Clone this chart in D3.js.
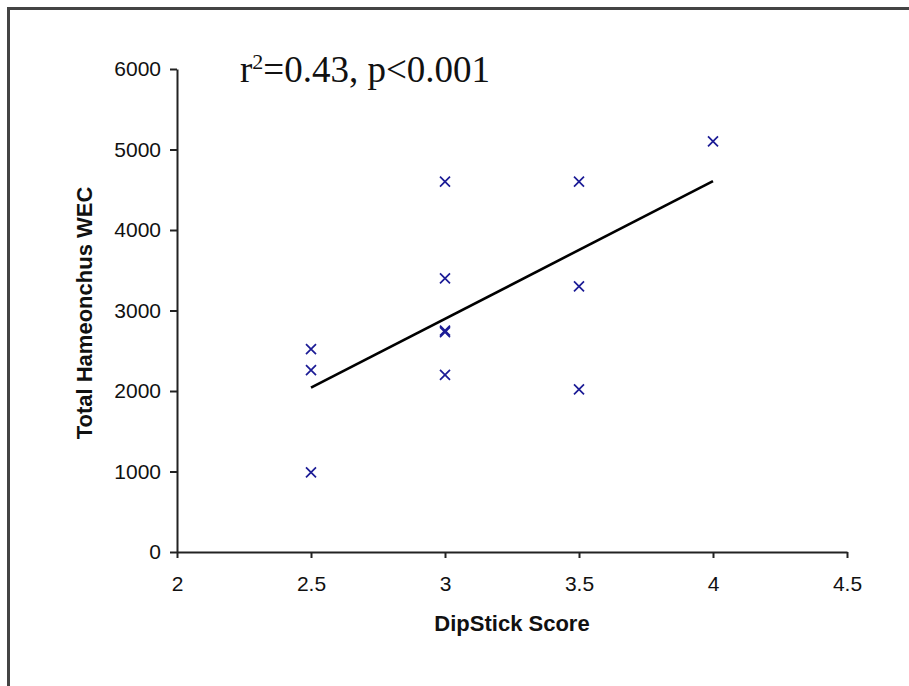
<!DOCTYPE html>
<html>
<head>
<meta charset="utf-8">
<script src="https://cdn.jsdelivr.net/npm/d3@7"></script>
<style>
  body { margin: 0; background: #fff; }
  .axis path, .axis line { stroke: #222; stroke-width: 2px; }
  .axis text { font-family: "Liberation Sans", Arial, sans-serif; font-size: 21px; fill: #111; }
  .title { font-family: "Liberation Sans", Arial, sans-serif; font-size: 22px; font-weight: bold; fill: #111; }
</style>
</head>
<body>
<svg class="chart"></svg>
<script>
// data
var dipScore = [2.5, 2.5, 2.5, 3, 3, 3, 3, 3, 3.5, 3.5, 3.5, 4];
var totalWEC = [2520, 2260, 990, 4600, 3400, 2750, 2730, 2200, 4600, 3300, 2020, 5100];
var xTicks = [2, 2.5, 3, 3.5, 4, 4.5];
var yTicks = [0, 1000, 2000, 3000, 4000, 5000, 6000];

var width = 909, height = 686;
var plot = {left: 177, right: 847, top: 69, bottom: 552};

var chart = d3.select(".chart")
    .attr("width", width)
    .attr("height", height);

// frame of the original figure (runs off the right / bottom edge)
chart.append("rect")
    .attr("x", 8.5).attr("y", 8.5)
    .attr("width", 1000).attr("height", 800)
    .attr("fill", "none")
    .attr("stroke", "#444")
    .attr("stroke-width", 3);

var x = d3.scaleLinear().domain([2, 4.5]).range([plot.left, plot.right]);
var y = d3.scaleLinear().domain([0, 6000]).range([plot.bottom, plot.top]);

var xAxis = d3.axisBottom(x)
    .tickValues(xTicks)
    .tickFormat(function(d) { return String(d); })
    .tickSize(6)
    .tickSizeOuter(0)
    .tickPadding(18);

var yAxis = d3.axisLeft(y)
    .tickValues(yTicks)
    .tickFormat(function(d) { return String(d); })
    .tickSize(7)
    .tickSizeOuter(0)
    .tickPadding(9);

chart.append("g")
    .attr("class", "axis")
    .attr("transform", "translate(0," + plot.bottom + ")")
    .call(xAxis);

chart.append("g")
    .attr("class", "axis")
    .attr("transform", "translate(" + plot.left + ",0)")
    .call(yAxis);

// least squares fit
var n = dipScore.length;
var mx = d3.mean(dipScore), my = d3.mean(totalWEC);
var sxy = 0, sxx = 0;
for (var i = 0; i < n; i++) {
    sxy += (dipScore[i] - mx) * (totalWEC[i] - my);
    sxx += (dipScore[i] - mx) * (dipScore[i] - mx);
}
var slope = sxy / sxx, icept = my - slope * mx;
var fitX = d3.extent(dipScore);

chart.append("path")
    .datum(fitX)
    .attr("d", d3.line()
        .x(function(d) { return x(d); })
        .y(function(d) { return y(icept + slope * d); }))
    .attr("fill", "none")
    .attr("stroke", "#000")
    .attr("stroke-width", 2.6);

// x markers
chart.selectAll("path.pt")
    .data(d3.range(n))
    .enter()
    .append("path")
    .attr("class", "pt")
    .attr("transform", function(i) { return "translate(" + x(dipScore[i]) + "," + y(totalWEC[i]) + ")"; })
    .attr("d", "M-5,-5L5,5M-5,5L5,-5")
    .attr("stroke", "#1c1c96")
    .attr("stroke-width", 1.7);

// stats annotation
var stat = chart.append("text")
    .attr("x", 240)
    .attr("y", 82)
    .style("font-family", "'Liberation Serif', 'Times New Roman', serif")
    .style("font-size", "37px")
    .attr("fill", "#111");
stat.append("tspan").text("r");
stat.append("tspan").attr("dy", -13).style("font-size", "22px").text("2");
stat.append("tspan").attr("dy", 13).text("=0.43, p<0.001");

// axis titles
chart.append("text")
    .attr("class", "title")
    .attr("x", 512)
    .attr("y", 631)
    .attr("text-anchor", "middle")
    .text("DipStick Score");

chart.append("text")
    .attr("class", "title")
    .attr("transform", "translate(92,313) rotate(-90)")
    .attr("text-anchor", "middle")
    .text("Total Hameonchus WEC");
</script>
</body>
</html>
